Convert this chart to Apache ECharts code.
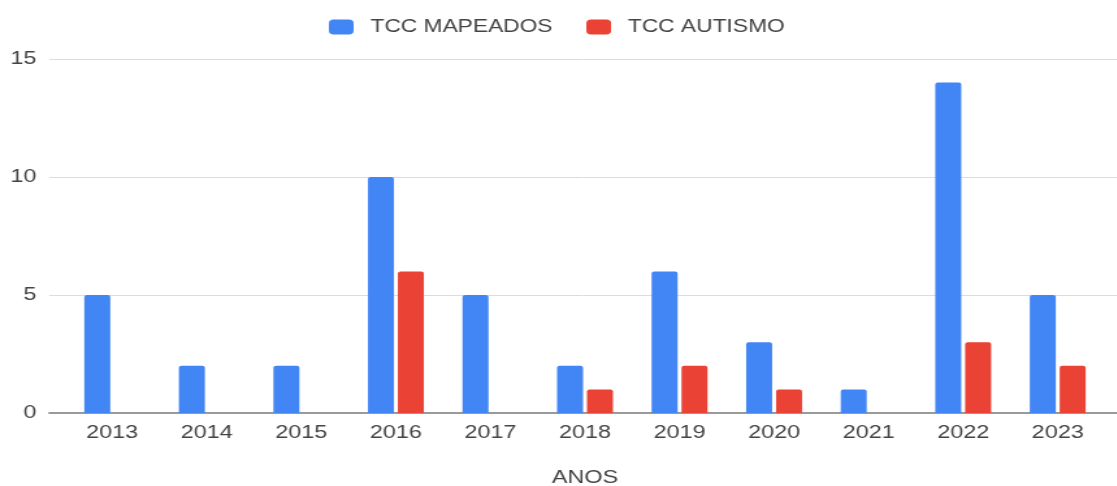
<!DOCTYPE html>
<html>
<head>
<meta charset="utf-8">
<script src="https://cdn.jsdelivr.net/npm/echarts@6/dist/echarts.min.js"></script>
<style>
  html, body { margin: 0; padding: 0; background: #fff; }
  #wrap { width: 1117px; height: 486px; overflow: hidden; }
  /* the original picture is stretched sideways, so the chart is drawn narrower and widened */
  #main { width: 859px; height: 486px; transform: scaleX(1.3); transform-origin: 0 0; }
</style>
</head>
<body>
<div id="wrap"><div id="main"></div></div>
<script>
    var anos = ['2013', '2014', '2015', '2016', '2017', '2018', '2019', '2020', '2021', '2022', '2023'];
    var tccMapeados = [5, 2, 2, 10, 5, 2, 6, 3, 1, 14, 5];
    var tccAutismo = [0, 0, 0, 6, 0, 1, 2, 1, 0, 3, 2];

    var myChart = echarts.init(document.getElementById('main'));

    // zeros are not drawn in the original
    function semZero(arr) {
        return arr.map(function (v) { return v === 0 ? '-' : v; });
    }

    var corTexto = '#444';

    var option = {
        animation: false,
        textStyle: { fontFamily: 'Liberation Sans, Arial, sans-serif' },
        legend: {
            top: 13,
            left: 248,
            itemWidth: 19,
            itemHeight: 15,
            itemGap: 26,
            icon: 'roundRect',
            textStyle: { fontSize: 17.5, color: corTexto, padding: [0, 0, 0, 8] },
            data: ['TCC MAPEADOS', 'TCC AUTISMO']
        },
        grid: [
            { left: 50, right: 9, top: 59, bottom: 73, containLabel: false, outerBoundsMode: 'none' },
            { left: 38, right: 0, top: 59, bottom: 73, containLabel: false, outerBoundsMode: 'none' }
        ],
        xAxis: [
            {
                type: 'category',
                gridIndex: 0,
                data: anos,
                name: 'ANOS',
                nameLocation: 'middle',
                nameGap: 56,
                nameTextStyle: { fontSize: 18, color: corTexto },
                axisTick: { show: false },
                axisLine: { show: false },
                axisLabel: { fontSize: 18, color: corTexto, margin: 11 }
            },
            {
                type: 'value',
                gridIndex: 1,
                min: 0,
                max: 1,
                axisTick: { show: false },
                axisLabel: { show: false },
                splitLine: { show: false },
                axisLine: { lineStyle: { color: '#9a9a9a', width: 2 } }
            }
        ],
        yAxis: [
            {
                type: 'value',
                gridIndex: 0,
                min: 0,
                max: 15,
                interval: 5,
                axisLine: { show: false },
                axisLabel: { show: false },
                splitLine: { show: false }
            },
            {
                type: 'value',
                gridIndex: 1,
                min: 0,
                max: 15,
                interval: 5,
                axisLine: { show: false },
                axisTick: { show: false },
                axisLabel: { fontSize: 18, color: corTexto, margin: 10 },
                splitLine: { lineStyle: { color: '#dcdcdc' } }
            }
        ],
        series: [
            {
                name: 'TCC MAPEADOS',
                type: 'bar',
                xAxisIndex: 0,
                yAxisIndex: 0,
                data: semZero(tccMapeados),
                barWidth: 20,
                barGap: '15%',
                itemStyle: { color: '#4285F4', borderRadius: [2, 2, 0, 0] }
            },
            {
                name: 'TCC AUTISMO',
                type: 'bar',
                xAxisIndex: 0,
                yAxisIndex: 0,
                data: semZero(tccAutismo),
                barWidth: 20,
                barGap: '15%',
                itemStyle: { color: '#EA4335', borderRadius: [2, 2, 0, 0] }
            }
        ]
    };
    myChart.setOption(option);
</script>
</body>
</html>
